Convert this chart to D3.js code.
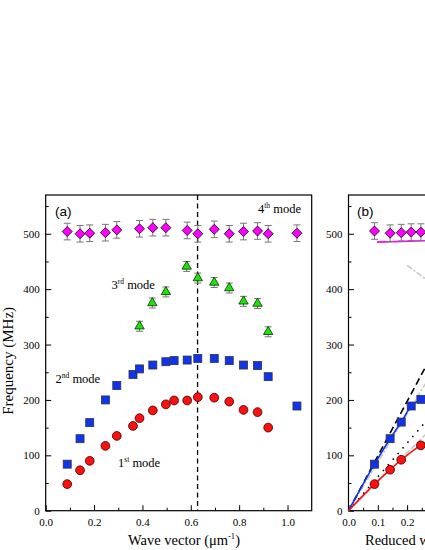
<!DOCTYPE html>
<html lang="en">
<head>
<meta charset="UTF-8">
<title>Mode frequencies vs wave vector</title>
<script src="https://d3js.org/d3.v7.min.js"></script>
<style>
  body { margin: 0; background: #fff; }
  svg { display: block; }
  .tick text { font-family: "Liberation Serif", "Times New Roman", serif; font-size: 11px; fill: #000; }
  .tick line { stroke: #000; stroke-width: 1; }
  .serif { font-family: "Liberation Serif", "Times New Roman", serif; fill: #000; }
  .sans { font-family: "Liberation Sans", Arial, sans-serif; fill: #000; }
</style>
</head>
<body>
<svg width="425" height="550"></svg>
<script>
// ---- panel (a) data : wave vector (um^-1) vs frequency (MHz)
var k1 = [0.089, 0.142, 0.182, 0.247, 0.294, 0.361, 0.388, 0.443, 0.497, 0.531, 0.585, 0.629, 0.697, 0.759, 0.818, 0.876, 0.920];
var f1 = [48, 73, 90, 117, 135, 153, 167, 181, 192, 199, 199, 205, 204, 197, 182, 178, 150];

var k2 = [0.089, 0.142, 0.182, 0.247, 0.294, 0.361, 0.388, 0.443, 0.497, 0.531, 0.585, 0.629, 0.697, 0.759, 0.818, 0.876, 0.920, 1.039];
var f2 = [84, 130, 159, 200, 226, 246, 256, 263, 269, 271, 272, 275, 275, 271, 263, 262, 242, 189];

var k3 = [0.388, 0.441, 0.497, 0.583, 0.629, 0.697, 0.759, 0.818, 0.876, 0.920];
var f3 = [333, 375, 395, 441, 420, 412, 402, 378, 374, 323];

var k4 = [0.089, 0.142, 0.182, 0.247, 0.294, 0.388, 0.443, 0.497, 0.585, 0.629, 0.697, 0.759, 0.818, 0.876, 0.920, 1.039];
var f4 = [504, 500, 501, 502, 507, 509, 511, 511, 506, 500, 508, 500, 504, 505, 500, 501];

var err1 = 3, err2 = 4, err3 = 9, err4 = 15;
var kCut = 0.628;   // dashed vertical line

// ---- panel (b) data : reduced wave vector
var kb = [0.0887, 0.142, 0.180, 0.214, 0.247];
var fb1 = [48, 74, 92, null, 118];
var fb2 = [84, 130, 160, 189, 201];
var fb4 = [505, 501, 502, 503, 503];

// model curves in (b)
var fitRedK = [0, 0.0887, 0.142, 0.181, 0.247, 0.27];
var fitRedF = [0, 48, 74, 92, 118, 124];
var fitBlueK = [0, 0.0887, 0.142, 0.180, 0.214, 0.247, 0.27];
var fitBlueF = [0, 84, 130, 160, 189, 201, 206];
var fitMagK = [0.097, 0.3];
var fitMagF = [485, 488];
var dashK = [0, 0.3], dashF = [0, 296];
var dotK = [0, 0.3], dotF = [0, 183];
var grayHiK = [0, 0.3], grayHiF = [0, 262];
var grayLoK = [0, 0.3], grayLoF = [0, 157];
var grayTopK = [0.2, 0.3], grayTopF = [443, 404];

var yMajor = [0, 100, 200, 300, 400, 500];
var yMinor = [50, 150, 250, 350, 450, 550];

var svg = d3.select("svg");
var plotTop = 195, plotBottom = 510.7;

var y = d3.scaleLinear().domain([0, 570]).range([plotBottom, plotTop]);
var xA = d3.scaleLinear().domain([0, 1.1]).range([45.7, 311.7]);
var xB = d3.scaleLinear().domain([0, 0.9]).range([348.5, 612.2]);

var RED = "#ff1010", BLUE = "#1034ee", GREEN = "#22e010", MAG = "#ff00ff";

function drawAxes(x, xMajor, xMinor) {
    var g = svg.append("g");
    g.append("g")
        .attr("transform", "translate(0," + plotBottom + ")")
        .call(d3.axisBottom(x).tickValues(xMajor).tickFormat(d3.format(".1f"))
            .tickSizeInner(-5.5).tickSizeOuter(0).tickPadding(8))
        .call(function (a) { a.select(".domain").remove(); });
    g.append("g")
        .attr("transform", "translate(0," + plotBottom + ")")
        .call(d3.axisBottom(x).tickValues(xMinor).tickFormat("").tickSizeInner(-3).tickSizeOuter(0))
        .call(function (a) { a.select(".domain").remove(); });
    g.append("g")
        .attr("transform", "translate(" + x.range()[0] + ",0)")
        .call(d3.axisLeft(y).tickValues(yMajor).tickSizeInner(-5.5).tickSizeOuter(0).tickPadding(6))
        .call(function (a) { a.select(".domain").remove(); });
    g.append("g")
        .attr("transform", "translate(" + x.range()[0] + ",0)")
        .call(d3.axisLeft(y).tickValues(yMinor).tickFormat("").tickSizeInner(-3).tickSizeOuter(0))
        .call(function (a) { a.select(".domain").remove(); });
    g.append("rect")
        .attr("x", x.range()[0]).attr("y", plotTop)
        .attr("width", x.range()[1] - x.range()[0]).attr("height", plotBottom - plotTop)
        .attr("fill", "none").attr("stroke", "#000").attr("stroke-width", 1.2);
}

function pts(ks, fs) {
    return ks.map(function (k, i) { return { k: k, f: fs[i] }; })
        .filter(function (d) { return d.f != null; });
}

function errorBars(g, x, data, e) {
    var eb = g.append("g").attr("stroke", "#777").attr("stroke-width", 1).attr("fill", "none");
    data.forEach(function (d) {
        var cx = x(d.k), y0 = y(d.f - e), y1 = y(d.f + e);
        eb.append("path").attr("d",
            "M" + cx + "," + y0 + "V" + y1 +
            "M" + (cx - 3.5) + "," + y0 + "H" + (cx + 3.5) +
            "M" + (cx - 3.5) + "," + y1 + "H" + (cx + 3.5));
    });
}

function circles(g, x, data) {
    g.selectAll(null).data(data).enter().append("circle")
        .attr("cx", function (d) { return x(d.k); })
        .attr("cy", function (d) { return y(d.f); })
        .attr("r", 4.4)
        .attr("fill", RED).attr("stroke", "#300").attr("stroke-width", 0.8);
}

function squares(g, x, data) {
    g.selectAll(null).data(data).enter().append("rect")
        .attr("x", function (d) { return x(d.k) - 4; })
        .attr("y", function (d) { return y(d.f) - 4; })
        .attr("width", 8).attr("height", 8)
        .attr("fill", BLUE).attr("stroke", "#333").attr("stroke-width", 0.8);
}

function triangles(g, x, data) {
    g.selectAll(null).data(data).enter().append("path")
        .attr("d", d3.symbol().type(d3.symbolTriangle).size(38))
        .attr("transform", function (d) { return "translate(" + x(d.k) + "," + y(d.f) + ")"; })
        .attr("fill", GREEN).attr("stroke", "#030").attr("stroke-width", 0.8);
}

function diamonds(g, x, data) {
    g.selectAll(null).data(data).enter().append("path")
        .attr("d", d3.symbol().type(d3.symbolSquare).size(50))
        .attr("transform", function (d) { return "translate(" + x(d.k) + "," + y(d.f) + ") rotate(45)"; })
        .attr("fill", MAG).attr("stroke", "#202").attr("stroke-width", 0.8);
}

function modeLabel(x0, y0, num, sup) {
    var t = svg.append("text").attr("class", "serif").attr("x", x0).attr("y", y0).attr("font-size", 12.5);
    t.append("tspan").text(num);
    t.append("tspan").attr("font-size", 7.5).attr("dy", -5).text(sup);
    t.append("tspan").attr("dy", 5).text(" mode");
}

// ================= panel (a)
drawAxes(xA, [0, 0.2, 0.4, 0.6, 0.8, 1.0], [0.1, 0.3, 0.5, 0.7, 0.9]);

var ga = svg.append("g");
ga.append("line")
    .attr("x1", xA(kCut)).attr("x2", xA(kCut))
    .attr("y1", plotTop).attr("y2", plotBottom)
    .attr("stroke", "#000").attr("stroke-width", 1.3).attr("stroke-dasharray", "5,3.5");

var d1 = pts(k1, f1), d2 = pts(k2, f2), d3p = pts(k3, f3), d4 = pts(k4, f4);
errorBars(ga, xA, d4, err4);
errorBars(ga, xA, d3p, err3);
errorBars(ga, xA, d2, err2);
errorBars(ga, xA, d1, err1);
diamonds(ga, xA, d4);
triangles(ga, xA, d3p);
squares(ga, xA, d2);
circles(ga, xA, d1);

svg.append("text").attr("class", "sans").attr("x", 55).attr("y", 216).attr("font-size", 13.5).text("(a)");
modeLabel(258, 213, "4", "th");
modeLabel(111.5, 289, "3", "rd");
modeLabel(55.5, 383, "2", "nd");
modeLabel(118, 467, "1", "st");

svg.append("text").attr("class", "serif")
    .attr("transform", "translate(13," + ((plotTop + plotBottom) / 2 + 8) + ") rotate(-90)")
    .attr("text-anchor", "middle").attr("font-size", 15)
    .text("Frequency (MHz)");

var xl = svg.append("text").attr("class", "serif")
    .attr("x", 184).attr("y", 545).attr("text-anchor", "middle").attr("font-size", 14.5);
xl.append("tspan").text("Wave vector (\u03bcm");
xl.append("tspan").attr("font-size", 8.5).attr("dy", -6).text("-1");
xl.append("tspan").attr("dy", 6).text(")");

// ================= panel (b)  (only the left part is inside the picture)
drawAxes(xB, [0, 0.1, 0.2], [0.05, 0.15, 0.25]);

svg.append("clipPath").attr("id", "clipB").append("rect")
    .attr("x", xB.range()[0]).attr("y", plotTop)
    .attr("width", xB.range()[1] - xB.range()[0]).attr("height", plotBottom - plotTop);

var gb = svg.append("g").attr("clip-path", "url(#clipB)");
var line = d3.line().x(function (d) { return xB(d.k); }).y(function (d) { return y(d.f); });
var lineSmooth = d3.line().curve(d3.curveMonotoneX).x(function (d) { return xB(d.k); }).y(function (d) { return y(d.f); });

gb.append("path").datum(pts(grayLoK, grayLoF)).attr("d", line)
    .attr("fill", "none").attr("stroke", "#c4c4c4").attr("stroke-width", 1.5).attr("stroke-dasharray", "6,2");
gb.append("path").datum(pts(grayHiK, grayHiF)).attr("d", line)
    .attr("fill", "none").attr("stroke", "#c4c4c4").attr("stroke-width", 1.5).attr("stroke-dasharray", "6,2,2,2");
gb.append("path").datum(pts(grayTopK, grayTopF)).attr("d", line)
    .attr("fill", "none").attr("stroke", "#c4c4c4").attr("stroke-width", 1.5).attr("stroke-dasharray", "6,2,2,2");
gb.append("path").datum(pts(dotK, dotF)).attr("d", line)
    .attr("fill", "none").attr("stroke", "#000").attr("stroke-width", 1.6).attr("stroke-dasharray", "1.5,6");
gb.append("path").datum(pts(dashK, dashF)).attr("d", line)
    .attr("fill", "none").attr("stroke", "#000").attr("stroke-width", 1.6).attr("stroke-dasharray", "7,4");
gb.append("path").datum(pts(fitMagK, fitMagF)).attr("d", lineSmooth)
    .attr("fill", "none").attr("stroke", MAG).attr("stroke-width", 1.6);
gb.append("path").datum(pts(fitBlueK, fitBlueF)).attr("d", lineSmooth)
    .attr("fill", "none").attr("stroke", BLUE).attr("stroke-width", 1.6);
gb.append("path").datum(pts(fitRedK, fitRedF)).attr("d", lineSmooth)
    .attr("fill", "none").attr("stroke", RED).attr("stroke-width", 1.6);

var db4 = pts(kb, fb4), db2 = pts(kb, fb2), db1 = pts(kb, fb1);
errorBars(gb, xB, db4, err4);
diamonds(gb, xB, db4);
squares(gb, xB, db2);
circles(gb, xB, db1);

svg.append("text").attr("class", "sans").attr("x", 357).attr("y", 216).attr("font-size", 13.5).text("(b)");
svg.append("text").attr("class", "serif")
    .attr("x", 365).attr("y", 545).attr("font-size", 14.5)
    .text("Reduced wave vector");
</script>
</body>
</html>
